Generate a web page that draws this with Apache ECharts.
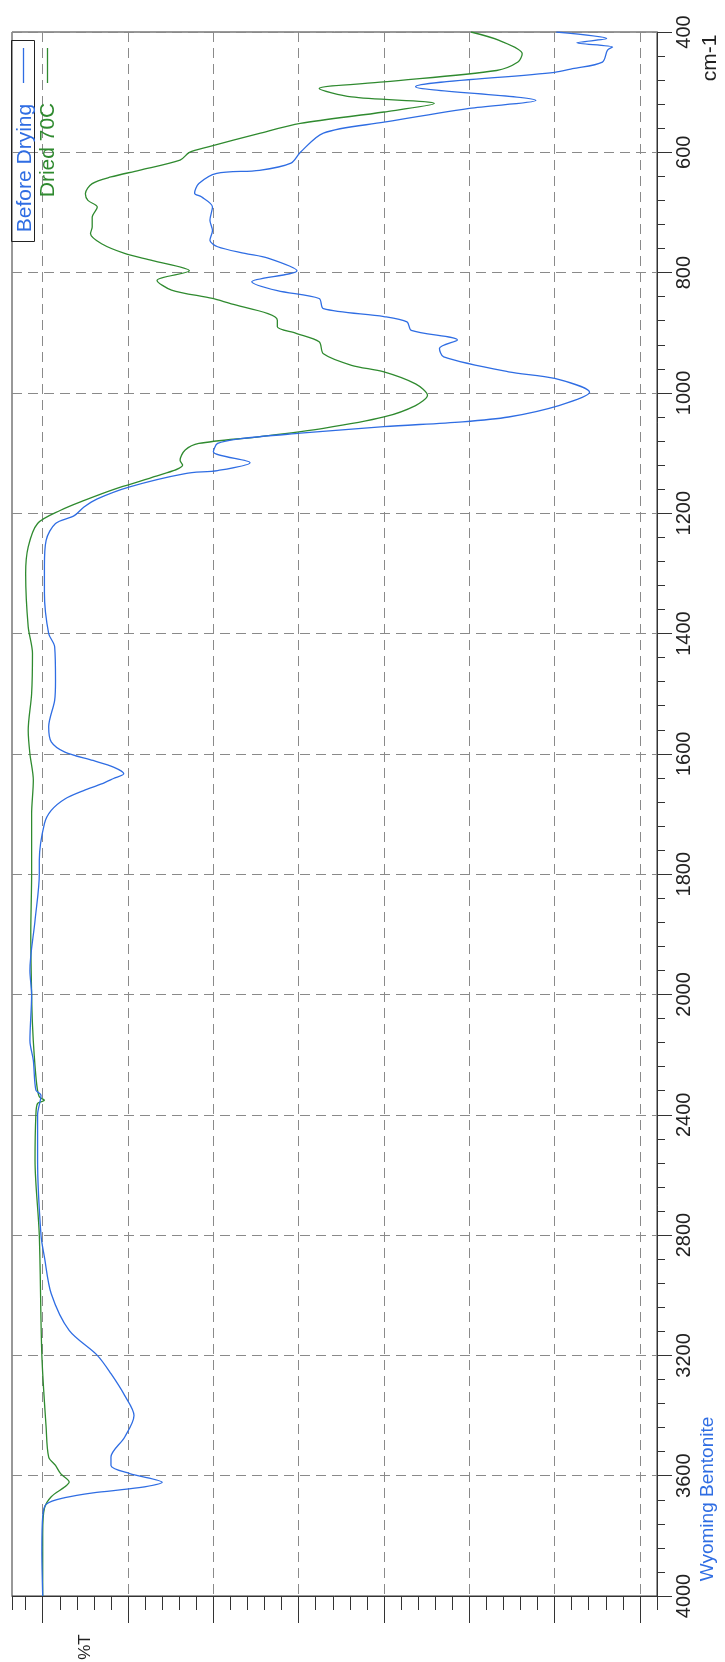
<!DOCTYPE html>
<html>
<head>
<meta charset="utf-8">
<title>Wyoming Bentonite FTIR</title>
<script src="https://cdn.jsdelivr.net/npm/echarts@6/dist/echarts.min.js"></script>
<style>
  html, body { margin: 0; padding: 0; background: #ffffff; }
  #chart { width: 725px; height: 1662px; }
</style>
</head>
<body>
<div id="chart"></div>
<script>
// ---------------- data (wavenumber cm-1, %T) ----------------
const wnBefore = [400,411,418,425,430,450,461,467,491,514,527,550,568,600,618,630,635,652,668,674,691,713,730,746,757,768,776,797,815,830,843,860,873,882,896,912,926,940,965,976,999,1021,1040,1048,1056,1067,1076,1084,1098,1116,1129,1134,1156,1176,1190,1204,1217,1245,1289,1333,1400,1422,1478,1511,1555,1580,1597,1611,1622,1633,1641,1650,1661,1675,1694,1716,1777,1800,1877,1960,2000,2153,2219,2318,2335,2400,2552,2801,2873,2995,3117,3200,3261,3333,3400,3472,3538,3566,3593,3622,3640,3657,3673,3695,3735,3848,4000];
const tBefore  = [39.8,33.9,37.4,33.2,33.8,34.4,37.9,40.0,56.3,42.2,50.0,60.0,67.1,69.8,70.9,74.6,79.6,81.7,82.2,81.4,80.1,80.4,80.1,80.4,79.5,76.3,73.6,70.2,75.5,72.5,67.6,67.1,60.0,57.3,56.8,51.4,53.5,53.0,45.4,40.0,35.9,39.5,45.4,50.8,60.0,69.8,76.8,79.5,80.0,75.7,79.5,83.3,89.8,93.6,95.2,96.3,98.5,99.6,99.8,99.8,99.3,98.6,98.5,98.6,99.3,99.0,97.4,94.1,91.7,90.5,91.7,93.1,95.2,97.4,99.0,99.8,100.4,100.4,100.9,101.5,101.3,101.5,101.1,100.8,100.2,100.6,100.6,100.2,99.8,99.0,96.9,93.6,92.0,90.4,89.3,90.4,92.0,92.0,89.8,86.0,88.7,94.1,97.4,99.6,100.0,100.1,100.0];

const wnDried = [400,414,436,450,464,483,494,508,519,533,552,569,591,600,613,630,641,652,669,680,691,708,724,735,752,768,780,797,813,829,843,852,868,879,890,901,915,935,954,965,985,1004,1021,1040,1059,1073,1084,1095,1112,1120,1140,1159,1179,1195,1217,1256,1300,1389,1433,1500,1561,1600,1644,1700,1800,1900,2000,2100,2200,2300,2340,2352,2362,2400,2552,2801,3200,3439,3538,3566,3593,3621,3637,3670,3709,3792,4000];
const tDried  = [49.8,46.5,43.8,44.3,46.8,60.0,67.6,63.8,54.1,60.0,69.8,74.7,80.6,82.8,83.9,88.7,92.0,94.2,95.0,94.7,93.6,94.2,94.2,94.4,93.1,90.4,87.1,82.8,86.6,84.9,80.1,77.9,73.6,72.5,72.5,70.3,67.6,67.1,63.8,60.0,56.3,54.9,56.3,60.0,67.1,74.7,81.7,83.3,83.9,83.6,87.1,91.4,95.2,97.9,100.6,101.7,102.0,101.7,101.2,101.3,101.7,101.5,101.1,101.3,101.3,101.4,101.3,101.2,101.0,100.7,100.4,99.8,100.6,100.8,100.9,100.4,100.1,99.6,99.3,98.5,97.9,96.9,97.4,99.0,99.8,100.0,100.0];

// axis tick values
const wnMajorLabels = [400,600,800,1000,1200,1400,1600,1800,2000,2400,2800,3200,3600,4000];
const tGridValues = [30,40,50,60,70,80,90,100];

const seriesNames = ['Before Drying', 'Dried 70C'];
const titleText = 'Wyoming Bentonite';
const unitText = 'cm-1';
const yName = '%T';

// ---------------- helpers ----------------
// the wavenumber axis is expanded 2x below 2000 cm-1
function wnToPos(wn) { return wn <= 2000 ? wn : 2000 + (wn - 2000) / 2; }
function posToWn(p) { return p <= 2000 ? p : 2000 + (p - 2000) * 2; }

function pairs(wns, ts) { return wns.map((w, i) => [ts[i], wnToPos(w)]); }

const BLUE = '#2f6de3';
const GREEN = '#2f8a2f';
const AXIS = '#333333';
const FONT = '"Liberation Sans", Arial, Helvetica, sans-serif';

const posMin = wnToPos(4000) > wnToPos(400) ? wnToPos(400) : wnToPos(4000);
const posMax = wnToPos(4000);
const majorPos = wnMajorLabels.map(wnToPos);

const chart = echarts.init(document.getElementById('chart'), null, { renderer: 'canvas' });

const option = {
  backgroundColor: '#ffffff',
  animation: false,
  grid: {
    left: 12, right: 68, top: 32, bottom: 66,
    show: true, borderColor: AXIS, borderWidth: 1, backgroundColor: 'transparent'
  },
  xAxis: [
    {
      type: 'value', min: 28, max: 103.6, interval: 2, inverse: true, position: 'bottom',
      axisLine: { show: true, onZero: false, lineStyle: { color: AXIS, width: 1 } },
      axisTick: { show: true, length: 14, lineStyle: { color: AXIS, width: 1 } },
      axisLabel: { show: false },
      splitLine: { show: false }
    },
    {
      type: 'value', min: 28, max: 103.6, inverse: true, position: 'bottom',
      axisLine: { show: false, onZero: false },
      axisTick: { show: true, length: 27, customValues: tGridValues, lineStyle: { color: AXIS, width: 1 } },
      axisLabel: { show: false, customValues: tGridValues },
      splitLine: { show: true, lineStyle: { color: '#8a8a8a', width: 1, type: [10, 6] } }
    }
  ],
  yAxis: [
    {
      type: 'value', min: posMin, max: posMax, interval: 40, inverse: true, position: 'right',
      axisLine: { show: true, onZero: false, lineStyle: { color: AXIS, width: 1 } },
      axisTick: { show: true, length: 8, lineStyle: { color: AXIS, width: 1 } },
      axisLabel: { show: false },
      splitLine: { show: false }
    },
    {
      type: 'value', min: posMin, max: posMax, interval: 200, inverse: true, position: 'right',
      axisLine: { show: false, onZero: false },
      axisTick: { show: true, length: 15, lineStyle: { color: AXIS, width: 1 } },
      axisLabel: {
        show: true, rotate: 90, margin: 17, fontSize: 20, color: '#222', fontFamily: FONT,
        formatter: v => String(Math.round(posToWn(v)))
      },
      splitLine: { show: true, lineStyle: { color: '#8a8a8a', width: 1, type: [10, 6] } }
    }
  ],
  series: [
    {
      name: seriesNames[0], type: 'line', xAxisIndex: 0, yAxisIndex: 0,
      data: pairs(wnBefore, tBefore), showSymbol: false, symbol: 'none',
      smooth: 0.3, lineStyle: { color: BLUE, width: 1.3 }, z: 5
    },
    {
      name: seriesNames[1], type: 'line', xAxisIndex: 0, yAxisIndex: 0,
      data: pairs(wnDried, tDried), showSymbol: false, symbol: 'none',
      smooth: 0.3, lineStyle: { color: GREEN, width: 1.3 }, z: 4
    }
  ],
  graphic: [
    // legend box (rotated legend)
    { type: 'rect', shape: { x: 11.5, y: 40.5, width: 23, height: 201 },
      style: { fill: 'none', stroke: '#222', lineWidth: 1 }, z: 10 },
    { type: 'line', shape: { x1: 23.5, y1: 48, x2: 23.5, y2: 83 },
      style: { stroke: BLUE, lineWidth: 1.3 }, z: 10 },
    { type: 'line', shape: { x1: 47.5, y1: 48, x2: 47.5, y2: 83 },
      style: { stroke: GREEN, lineWidth: 1.3 }, z: 10 },
    { type: 'text', x: 25, y: 168, rotation: Math.PI / 2,
      style: { text: seriesNames[0], fill: BLUE, font: '21px ' + FONT, textAlign: 'center', textVerticalAlign: 'middle' }, z: 10 },
    { type: 'text', x: 48.5, y: 150, rotation: Math.PI / 2,
      style: { text: seriesNames[1], fill: GREEN, font: '21px ' + FONT, textAlign: 'center', textVerticalAlign: 'middle' }, z: 10 },
    { type: 'text', x: 710, y: 58, rotation: Math.PI / 2,
      style: { text: unitText, fill: '#222', font: '21px ' + FONT, textAlign: 'center', textVerticalAlign: 'middle' }, z: 10 },
    { type: 'text', x: 708, y: 1499, rotation: Math.PI / 2,
      style: { text: titleText, fill: BLUE, font: '19px ' + FONT, textAlign: 'center', textVerticalAlign: 'middle' }, z: 10 },
    { type: 'text', x: 85, y: 1647, rotation: Math.PI / 2,
      style: { text: yName, fill: '#222', font: '17px ' + FONT, textAlign: 'center', textVerticalAlign: 'middle' }, z: 10 }
  ]
};

chart.setOption(option);
</script>
</body>
</html>
